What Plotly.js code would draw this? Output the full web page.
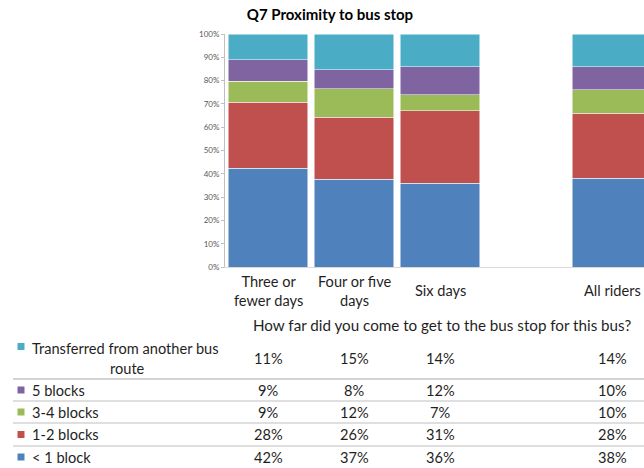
<!DOCTYPE html>
<html>
<head>
<meta charset="utf-8">
<script src="https://cdn.plot.ly/plotly-3.0.1.min.js"></script>
<style>
  html, body { margin: 0; padding: 0; background: #ffffff; }
  #chart { width: 644px; height: 468px; }
</style>
</head>
<body>
<div id="chart"></div>
<script>
// Rider groups (columns) and their axis / table labels
const categories = ['Three or fewer days', 'Four or five days', 'Six days', 'All riders'];
const categoryLabels = ['Three or<br>fewer days', 'Four or five<br>days', 'Six days', 'All riders'];

// Share of riders by distance to the stop, per group (%)
const lessThanOneBlock = [42, 37, 36, 38];
const oneToTwoBlocks   = [28, 26, 31, 28];
const threeToFourBlocks = [9, 12, 7, 10];
const fiveBlocks       = [9, 8, 12, 10];
const transferred      = [11, 15, 14, 14];

const seriesNames = ['< 1 block', '1-2 blocks', '3-4 blocks', '5 blocks', 'Transferred from another bus route'];
const seriesValues = [lessThanOneBlock, oneToTwoBlocks, threeToFourBlocks, fiveBlocks, transferred];
const seriesColors = ['#4F81BD', '#C0504D', '#9BBB59', '#8064A2', '#4BACC6'];

const chartTitle = 'Q7 Proximity to bus stop';
const tableHeader = 'How far did you come to get to the bus stop for this bus?';

// ---- layout geometry (pixels in a 644x468 page) ----
const W = 644, H = 468;
const plotLeft = 225, plotTop = 34, plotBottom = 267;
const plotW = W - plotLeft, plotH = plotBottom - plotTop;
const px = x => (x - plotLeft) / plotW;
const py = y => (plotBottom - y) / plotH;

const FONT = 'Lato, "Open Sans", sans-serif';
const TEXT = '#1f1f1f';
const FS = 14.6;

// a spacer slot separates the day groups from the total column
const spacer = ' ';
const slotOrder = [categories[0], categories[1], categories[2], spacer, categories[3]];

const traces = seriesValues.map((vals, i) => ({
  type: 'bar',
  name: seriesNames[i],
  x: categories,
  y: vals,
  marker: { color: seriesColors[i], line: { color: '#ffffff', width: 0.5 } },
  hoverinfo: 'x+y+name',
  showlegend: false
}));

const annotations = [];
const shapes = [];

// category labels under the bars
categories.forEach((c, j) => {
  annotations.push({
    xref: 'x', yref: 'paper', x: c, y: py(290.5),
    text: categoryLabels[j], showarrow: false,
    xanchor: 'center', yanchor: 'middle', align: 'center',
    font: { family: FONT, size: FS, color: TEXT }
  });
});

// data table header
annotations.push({
  xref: 'paper', yref: 'paper', x: px(442), y: py(325),
  text: tableHeader, showarrow: false, xanchor: 'center', yanchor: 'middle',
  font: { family: FONT, size: 15.2, color: TEXT }
});

// table rows: top row is the last series, bottom row the first
const rowCenters = [358, 390, 412, 434.5, 457];
const keyCenters = [346.5, 390, 412, 434.5, 457];
const rowLines = [379, 401, 423, 446];
const tableOrder = [4, 3, 2, 1, 0];

tableOrder.forEach((s, r) => {
  const yc = rowCenters[r];
  // key swatch
  shapes.push({
    type: 'rect', xref: 'paper', yref: 'paper',
    x0: px(17.5), x1: px(24.5), y0: py(keyCenters[r] + 3.5), y1: py(keyCenters[r] - 3.5),
    fillcolor: seriesColors[s], line: { width: 0 }
  });
  if (s === 4) {
    annotations.push({
      xref: 'paper', yref: 'paper', x: px(30), y: py(348),
      text: 'Transferred from another bus', showarrow: false,
      xanchor: 'left', yanchor: 'middle',
      font: { family: FONT, size: FS, color: TEXT }
    });
    annotations.push({
      xref: 'paper', yref: 'paper', x: px(127), y: py(368),
      text: 'route', showarrow: false,
      xanchor: 'center', yanchor: 'middle',
      font: { family: FONT, size: FS, color: TEXT }
    });
  } else {
    annotations.push({
      xref: 'paper', yref: 'paper', x: px(30), y: py(yc),
      text: seriesNames[s], showarrow: false,
      xanchor: 'left', yanchor: 'middle',
      font: { family: FONT, size: FS, color: TEXT }
    });
  }
  // values per group
  seriesValues[s].forEach((v, j) => {
    annotations.push({
      xref: 'x', yref: 'paper', x: categories[j], y: py(yc),
      text: v + '%', showarrow: false,
      xanchor: 'center', yanchor: 'middle',
      font: { family: FONT, size: FS, color: TEXT }
    });
  });
});

// row separators
rowLines.forEach((y, k) => {
  shapes.push({
    type: 'line', xref: 'paper', yref: 'paper',
    x0: px(13), x1: px(W), y0: py(y), y1: py(y),
    line: { color: '#d4d4d4', width: k === 0 ? 2 : 1.3 }
  });
});

const layout = {
  width: W, height: H,
  margin: { l: plotLeft, r: 0, t: plotTop, b: H - plotBottom, pad: 0 },
  paper_bgcolor: '#ffffff', plot_bgcolor: '#ffffff',
  barmode: 'stack', barnorm: 'percent', bargap: 0.07,
  font: { family: FONT, color: TEXT },
  title: {
    text: '<b>' + chartTitle + '</b>',
    xref: 'paper', x: px(330), xanchor: 'center',
    yref: 'container', y: 1 - 15 / H, yanchor: 'middle',
    font: { family: FONT, size: 15, color: '#000000' }
  },
  xaxis: {
    type: 'category', categoryorder: 'array', categoryarray: slotOrder,
    range: [-0.5, -0.5 + plotW / 86],
    showticklabels: false, ticks: '', showgrid: false, zeroline: false,
    showline: true, linecolor: '#d9d9d9', linewidth: 1,
    fixedrange: true
  },
  yaxis: {
    range: [0, 100], dtick: 10, ticksuffix: '%',
    showgrid: false, zeroline: false,
    showline: true, linecolor: '#bfbfbf', linewidth: 1,
    ticks: 'outside', ticklen: 3, tickcolor: '#bfbfbf',
    tickfont: { family: FONT, size: 8, color: '#595959' },
    fixedrange: true
  },
  annotations: annotations,
  shapes: shapes
};

Plotly.newPlot('chart', traces, layout, { displayModeBar: false, staticPlot: true });
</script>
</body>
</html>
